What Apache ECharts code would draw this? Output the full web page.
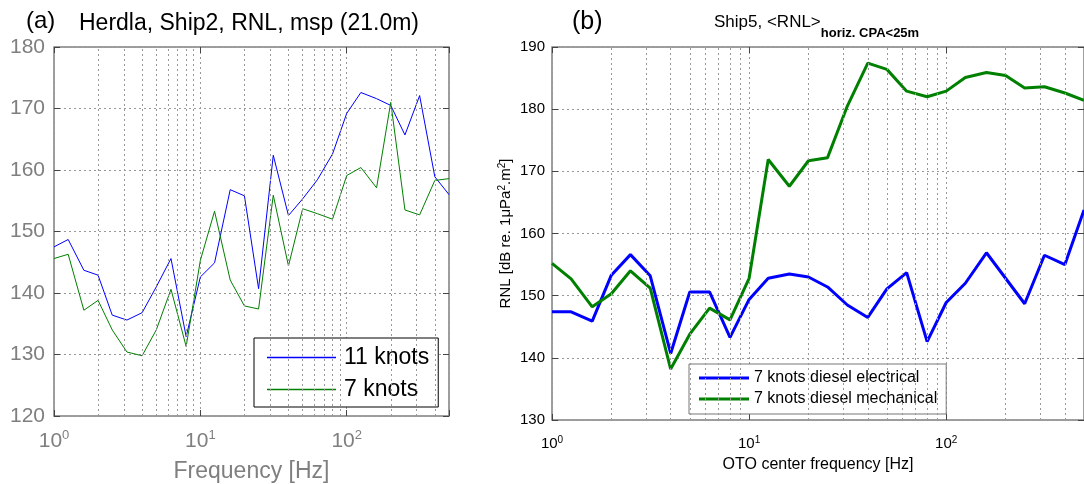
<!DOCTYPE html>
<html><head><meta charset="utf-8">
<script src="https://cdn.jsdelivr.net/npm/echarts@6/dist/echarts.min.js"></script>
<style>html,body{margin:0;padding:0;background:#fff}#c{width:1084px;height:484px}</style>
</head><body><div id="c"></div>
<script>
// ---- data ----
const FREQ = [1,1.25,1.6,2,2.5,3.15,4,5,6.3,8,10,12.5,16,20,25,31.5,40,50,63,80,100,125,160,200,250,315,400,500];
const A_11_KNOTS = [147.5,148.7,143.7,142.9,136.4,135.6,136.8,141.0,145.6,132.9,142.6,144.9,156.8,155.8,140.7,162.4,152.6,155.3,158.4,162.6,169.2,172.6,171.6,170.5,165.7,172.1,158.9,156.0];
const A_7_KNOTS  = [145.6,146.3,137.2,138.8,134.0,130.4,129.8,134.0,140.6,131.3,145.3,153.3,142.1,137.9,137.4,155.9,144.4,153.7,152.9,152.0,159.1,160.4,157.1,171.0,153.5,152.7,158.3,158.6];
const B_ELECTRICAL = [147.4,147.4,145.9,153.3,156.6,153.2,140.7,150.6,150.6,143.3,149.4,152.8,153.5,153.0,151.4,148.5,146.5,151.1,153.7,142.6,148.9,152.0,156.9,152.8,148.7,156.5,155.0,163.8];
const B_MECHANICAL = [155.2,152.7,148.2,150.3,154.0,151.2,138.2,143.8,148.0,146.1,152.8,171.9,167.6,171.7,172.2,180.5,187.4,186.4,182.9,182.0,182.9,185.1,185.9,185.4,183.4,183.6,182.6,181.4];
const A_NAMES = ['11 knots', '7 knots'];
const B_NAMES = ['7 knots diesel electrical', '7 knots diesel mechanical'];
const A_Y = [120, 180, 10];   // min, max, step
const B_Y = [130, 190, 10];
const X_RANGE = [1, 500];
const BLUE = '#0000ff', GREEN = '#008000';

// minor log gridline values (2..9 per decade)
const MINOR = [];
for (let d = 1; d <= 100; d *= 10) for (let k = 2; k <= 9; k++) { const v = k * d; if (v < X_RANGE[1]) MINOR.push(v); }

const FONT = 'Liberation Sans, Arial, sans-serif';
const pairs = (ys) => FREQ.map((f, i) => [f, ys[i]]);
function powLabel(v) {
  const e = Math.log10(v), r = Math.round(e);
  return Math.abs(e - r) < 1e-6 ? '{n|10}{s|' + r + '}' : '';
}
function grid(color) {
  return { silent: true, symbol: 'none', label: { show: false }, animation: false,
    lineStyle: { type: [2, 3], color: color, width: 1 },
    data: MINOR.map(v => ({ xAxis: v })) };
}
function xAxisDef(gi, labelColor, fs, sfs, margin, pos) {
  return {
    type: 'log', logBase: 10, gridIndex: gi, min: X_RANGE[0], max: X_RANGE[1], position: pos,
    axisLine: { show: false },
    axisTick: { show: true, inside: true, length: 6, lineStyle: { color: '#444' } },
    splitLine: { show: pos === 'bottom', lineStyle: { type: [2, 3], color: '#999' } },
    axisLabel: { show: pos === 'bottom', margin: margin, formatter: powLabel, showMinLabel: true, showMaxLabel: true,
      rich: { n: { fontSize: fs, color: labelColor, fontFamily: FONT },
              s: { fontSize: sfs, color: labelColor, fontFamily: FONT, padding: [0, 0, Math.round(fs * 0.55), 0] } } }
  };
}
function yAxisDef(gi, r, labelColor, fs, margin, pos) {
  return {
    type: 'value', gridIndex: gi, min: r[0], max: r[1], interval: r[2], position: pos,
    axisLine: { show: false },
    axisTick: { show: true, inside: true, length: 6, lineStyle: { color: '#444' } },
    splitLine: { show: pos === 'left', lineStyle: { type: [2, 3], color: '#999' } },
    axisLabel: { show: pos === 'left', margin: margin, color: labelColor, fontSize: fs, fontFamily: FONT }
  };
}

const chart = echarts.init(document.getElementById('c'), null, { renderer: 'canvas' });
const xa = [xAxisDef(0, '#7f7f7f', 21, 13, 13, 'bottom'), xAxisDef(1, '#000', 15, 10, 15, 'bottom'),
            xAxisDef(0, '#7f7f7f', 21, 13, 13, 'top'), xAxisDef(1, '#000', 15, 10, 15, 'top')];
xa[0].name = 'Frequency [Hz]'; xa[0].nameLocation = 'middle'; xa[0].nameGap = 44;
xa[0].nameTextStyle = { fontSize: 23, color: '#7f7f7f', fontFamily: FONT };
xa[1].name = 'OTO center frequency [Hz]'; xa[1].nameLocation = 'middle'; xa[1].nameGap = 37;
xa[1].nameTextStyle = { fontSize: 16, color: '#000', fontFamily: FONT };
const ya = [yAxisDef(0, A_Y, '#7f7f7f', 21, 9, 'left'), yAxisDef(1, B_Y, '#000', 15, 7, 'left'),
            yAxisDef(0, A_Y, '#7f7f7f', 21, 9, 'right'), yAxisDef(1, B_Y, '#000', 15, 7, 'right')];
ya[1].name = 'RNL [dB re. 1μPa{s|2}.m{s|2}]'; ya[1].nameLocation = 'middle'; ya[1].nameGap = 37; ya[1].nameRotate = 90;
ya[1].nameTextStyle = { fontSize: 15, color: '#000', fontFamily: FONT,
  rich: { s: { fontSize: 10, color: '#000', fontFamily: FONT, padding: [0, 0, 8, 0] } } };

chart.setOption({
  animation: false,
  backgroundColor: '#fff',
  textStyle: { fontFamily: FONT },
  title: [
    { text: '(a)', left: 26, top: 9, padding: 0, textStyle: { fontSize: 24, fontWeight: 'normal', color: '#000', fontFamily: FONT } },
    { text: 'Herdla, Ship2, RNL, msp (21.0m)', left: 79, top: 12, padding: 0, textStyle: { fontSize: 23, fontWeight: 'normal', color: '#000', fontFamily: FONT } },
    { text: '(b)', left: 572, top: 10, padding: 0, textStyle: { fontSize: 25, fontWeight: 'normal', color: '#000', fontFamily: FONT } },
    { text: '{m|Ship5, <RNL>}{b|horiz. CPA<25m}', left: 714, top: 14, padding: 0,
      textStyle: { fontWeight: 'normal', rich: {
        m: { fontSize: 17, fontWeight: 'normal', color: '#000', fontFamily: FONT, padding: [0, 0, 11, 0] },
        b: { fontSize: 13, fontWeight: 'bold', color: '#000', fontFamily: FONT, padding: [11, 0, 0, 0] } } } }
  ],
  grid: [
    { left: 54, top: 47, width: 395, height: 369, show: true, borderColor: '#7f7f7f', borderWidth: 1.5, backgroundColor: 'transparent', outerBoundsMode: 'none', containLabel: false },
    { left: 552, top: 47, width: 532, height: 373, show: true, borderColor: '#7f7f7f', borderWidth: 1.5, backgroundColor: 'transparent', outerBoundsMode: 'none', containLabel: false }
  ],
  xAxis: xa,
  yAxis: ya,
  legend: [
    { data: [{ name: A_NAMES[0], itemStyle: { color: BLUE, borderWidth: 0 } }, { name: A_NAMES[1], itemStyle: { color: GREEN, borderWidth: 0 } }],
      orient: 'vertical', left: 254, top: 338, backgroundColor: '#fff', borderColor: '#000', borderWidth: 1,
      padding: [8, 9, 6, 13], itemWidth: 69, itemHeight: 1.3, itemGap: 9, icon: 'rect',
      itemStyle: { borderWidth: 0 },
      textStyle: { fontSize: 23, color: '#000', fontFamily: FONT, padding: [0, 0, 0, 3] } },
    { data: [{ name: B_NAMES[0], itemStyle: { color: BLUE, borderWidth: 0 } }, { name: B_NAMES[1], itemStyle: { color: GREEN, borderWidth: 0 } }],
      orient: 'vertical', left: 689, top: 364, backgroundColor: '#fff', borderColor: '#777', borderWidth: 1,
      padding: [6, 9, 7, 10], itemWidth: 50, itemHeight: 3, itemGap: 5, icon: 'rect',
      itemStyle: { borderWidth: 0 },
      textStyle: { fontSize: 16, color: '#000', fontFamily: FONT } }
  ],
  series: [
    { name: A_NAMES[0], type: 'line', xAxisIndex: 0, yAxisIndex: 0, data: pairs(A_11_KNOTS), symbol: 'none', showSymbol: false,
      color: BLUE, lineStyle: { width: 1, color: BLUE }, markLine: grid('#999'), z: 3 },
    { name: A_NAMES[1], type: 'line', xAxisIndex: 0, yAxisIndex: 0, data: pairs(A_7_KNOTS), symbol: 'none', showSymbol: false,
      color: GREEN, lineStyle: { width: 1, color: GREEN }, z: 3 },
    { name: B_NAMES[0], type: 'line', xAxisIndex: 1, yAxisIndex: 1, data: pairs(B_ELECTRICAL), symbol: 'none', showSymbol: false,
      color: BLUE, lineStyle: { width: 3, color: BLUE }, markLine: grid('#999'), z: 3 },
    { name: B_NAMES[1], type: 'line', xAxisIndex: 1, yAxisIndex: 1, data: pairs(B_MECHANICAL), symbol: 'none', showSymbol: false,
      color: GREEN, lineStyle: { width: 3, color: GREEN }, z: 3 }
  ]
});
</script>
</body></html>
